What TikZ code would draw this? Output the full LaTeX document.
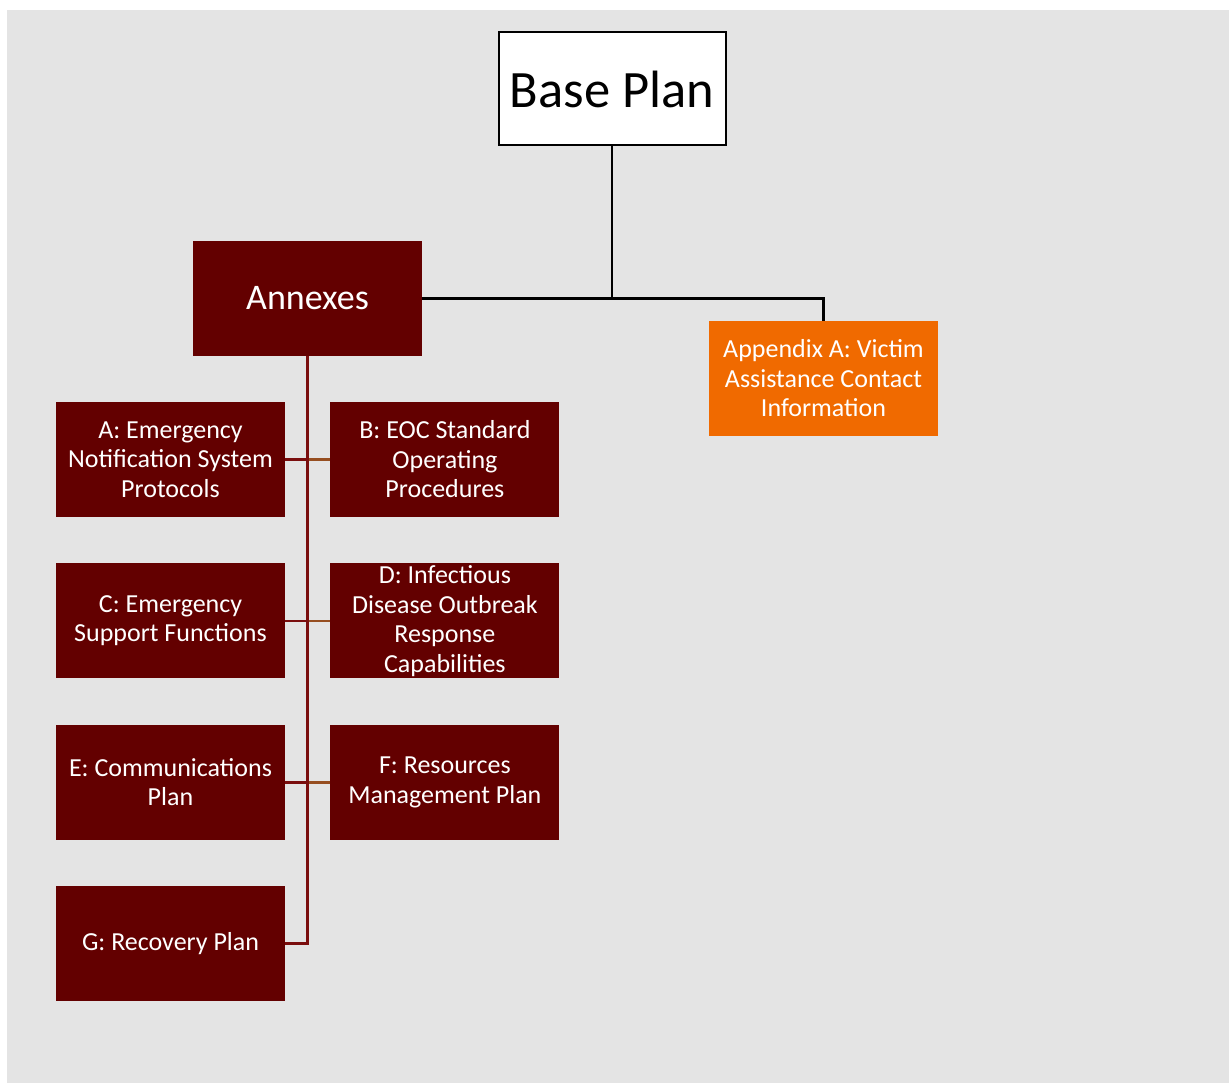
\documentclass[tikz,border=0pt]{standalone}
\usepackage{fontspec}
\setmainfont{Carlito}
\usetikzlibrary{positioning}
\definecolor{planred}{RGB}{99,0,0}
\definecolor{planorange}{RGB}{240,106,0}
\definecolor{planbg}{RGB}{228,228,228}
\definecolor{annexline}{RGB}{122,14,14}
\definecolor{sideline}{RGB}{150,78,32}

\begin{document}
\begin{tikzpicture}[x=1pt, y=-1pt, node distance=46pt and 45pt,
  annex/.style={fill=planred, text=white, minimum width=229pt, minimum height=115pt,
    align=center, inner sep=0pt, font=\fontsize{26}{29.5}\selectfont},
  blackline/.style={draw=black, line width=2.5pt},
  redline/.style={draw=annexline, line width=2.5pt},
  sidebranch/.style={draw=sideline, line width=2.5pt}]
% background
\useasboundingbox (0,0) rectangle (1229,1083);
\fill[planbg] (7,10) rectangle (1229,1083);

% nodes
\node[draw, fill=white, line width=2pt, minimum width=227pt, minimum height=113pt, inner sep=0pt,
  font=\fontsize{52.5}{60}\selectfont] (base) at (612,89) {Base Plan};%
\node[annex, font=\fontsize{36}{40}\selectfont] (annexes) at (307.5,298.5) {Annexes};%
\node[annex, fill=planorange] (appA) at (823.5,378.5) {Appendix A: Victim\\Assistance Contact\\Information};%

\node[annex] (a) at (170.5,459.5) {A: Emergency\\Notification System\\Protocols};%
\node[annex, right=of a] (b) {B: EOC Standard\\Operating\\Procedures};%
\node[annex, below=of a] (c) {C: Emergency\\Support Functions};%
\node[annex, right=of c] (d) {D: Infectious\\Disease Outbreak\\Response\\Capabilities};%
\node[annex, below=of c] (e) {E: Communications\\Plan};%
\node[annex, right=of e] (f) {F: Resources\\Management Plan};%
\node[annex, below=of e] (g) {G: Recovery Plan};%

% connectors
\draw[blackline] (base.south) -- (base.south |- annexes.east);
\draw[blackline] (annexes.east) -| (appA.north);
\foreach \l/\r in {a/b,c/d,e/f}{
  \draw[sidebranch] (\r.west) -- (\r.west -| annexes.south);
  \draw[redline] (\l.east) -- (\l.east -| annexes.south);
}
\draw[redline] (annexes.south) |- (g.east);
\end{tikzpicture}
\end{document}
